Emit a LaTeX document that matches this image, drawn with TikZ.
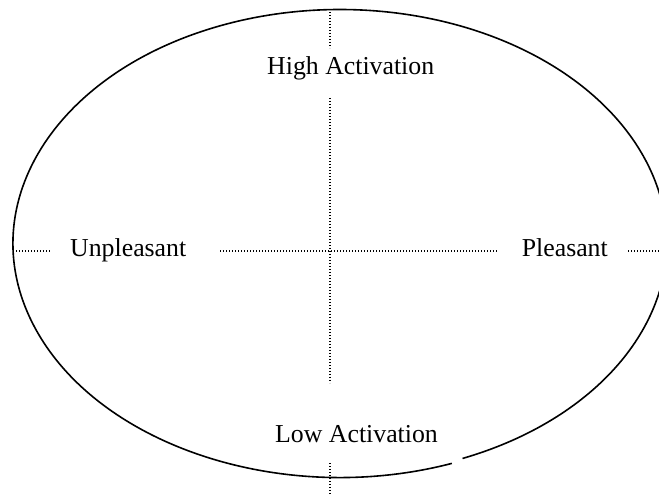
\documentclass[tikz,border=0pt]{standalone}
\usepackage{fontspec}
\setmainfont{Liberation Serif}
\begin{document}
\begin{tikzpicture}[x=1pt,y=-1pt,
  axis/.style={line width=1.3pt,dash pattern=on 1.2pt off 1.8pt},
  lbl/.style={inner sep=0pt,font=\fontsize{25.8}{30}\selectfont}]
\clip (0,0) rectangle (659,497);
\fill[white] (0,0) rectangle (659,497);
% ellipse (two arcs with a small gap at lower right)
\draw[line width=1.6pt] (340,243.5) ++(70:327 and 234) arc[start angle=70,end angle=360,x radius=327,y radius=234];
\draw[line width=1.6pt] (340,241.5) ++(0:327 and 234) arc[start angle=0,end angle=68,x radius=327,y radius=234];
% labels
\node[lbl,anchor=base west] (hi) at (267,75) {High Activation};
\node[lbl,anchor=base west] (lo) at (275,442) {Low Activation};
\node[lbl,anchor=base west] (un) at (70,257) {Unpleasant};
\node[lbl,anchor=base east] (pl) at (608,257) {Pleasant};
% axis coordinates
\coordinate (v1) at (330,12);  \coordinate (v2) at (330,48);
\coordinate (v3) at (330,98);  \coordinate (v4) at (330,383);
\coordinate (v5) at (330,463); \coordinate (v6) at (330,495);
\coordinate (h1) at (13,251);  \coordinate (h2) at (50,251);
\coordinate (h3) at (220,251); \coordinate (h4) at (497,251);
\coordinate (h5) at (628,251); \coordinate (h6) at (659,251);
\draw[axis] (v1) -- (v2);
\draw[axis] (v3) -- (v4);
\draw[axis] (v5) -- (v6);
\draw[axis] (h1) -- (h2);
\draw[axis] (h3) -- (h4);
\draw[axis] (h5) -- (h6);
\end{tikzpicture}
\end{document}
